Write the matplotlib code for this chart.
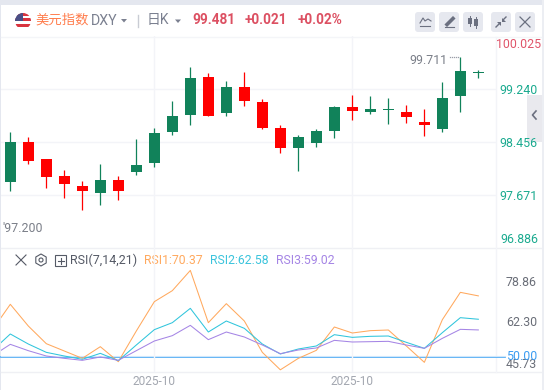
# plot.py - DXY daily candles with RSI pane

import matplotlib
matplotlib.use('Agg')
import numpy as np
import matplotlib.pyplot as plt
from matplotlib.patches import Circle, FancyBboxPatch, Polygon, Rectangle, RegularPolygon

plt.rcParams['font.family'] = ['Roboto', 'Noto Sans CJK SC', 'DejaVu Sans']

# candles
highs = [98.603, 98.529, 98.203, 98.040, 97.877, 98.129, 97.952, 98.499, 98.662, 99.062, 99.566, 99.477, 99.358, 99.492,
         99.092, 98.707, 98.559, 98.648, 98.988, 99.151, 99.136, 99.107, 99.003, 98.944, 99.344, 99.711, 99.517]
opens = [97.863, 98.455, 98.203, 97.952, 97.803, 97.700, 97.892, 98.011, 98.144, 98.603, 98.855, 99.418, 98.885, 99.270,
         99.047, 98.662, 98.366, 98.440, 98.618, 98.973, 98.899, 98.929, 98.899, 98.751, 98.648, 99.136, 99.477]
closes = [98.455, 98.174, 97.937, 97.833, 97.729, 97.892, 97.729, 98.114, 98.588, 98.840, 99.403, 98.840, 99.270, 99.062,
          98.662, 98.366, 98.529, 98.618, 98.973, 98.914, 98.944, 98.944, 98.825, 98.707, 99.107, 99.507, 99.496]
lows = [97.729, 98.129, 97.774, 97.626, 97.448, 97.522, 97.596, 97.966, 98.085, 98.559, 98.707, 98.840, 98.840, 98.988,
        98.648, 98.292, 98.026, 98.381, 98.514, 98.781, 98.870, 98.722, 98.736, 98.544, 98.603, 98.899, 99.403]

# rsi, the first point sits just left of the visible pane
rsi_x = list(range(-1, 27))
rsi1 = [59.00, 67.56, 60.33, 54.44, 52.00, 49.55, 53.44, 48.44, 58.67, 68.44, 72.11, 78.86, 61.44, 67.78,
        62.00, 51.55, 45.73, 49.55, 52.22, 60.00, 58.00, 58.78, 59.00, 53.67, 48.22, 62.44, 71.55, 70.37]
rsi2 = [52.11, 57.67, 54.33, 51.55, 50.33, 49.22, 51.22, 48.78, 54.00, 59.11, 61.44, 66.22, 58.33, 62.00,
        59.55, 54.33, 51.00, 52.67, 53.67, 57.44, 56.55, 56.89, 57.00, 54.89, 52.89, 58.11, 63.11, 62.58]
rsi3 = [50.33, 54.22, 52.11, 50.33, 49.55, 48.89, 50.00, 48.89, 52.11, 55.33, 57.11, 60.55, 55.78, 58.33,
        56.67, 54.00, 51.11, 52.33, 53.00, 55.55, 55.00, 55.11, 55.22, 54.00, 52.89, 56.22, 59.22, 59.02]

price_ticks = [99.240, 98.456, 97.671]
price_labels = ['100.025', '99.240', '98.456', '97.671', '96.886']
rsi_labels = ['78.86', '62.30', '45.73']
date_ticks = [8, 19]
date_labels = ['2025-10', '2025-10']

GREEN = '#11825a'
RED = '#ff0000'
GRID = '#f3f4f8'
W, H = 544, 390

fig = plt.figure(figsize=(W / 100, H / 100), dpi=100, facecolor='white')


def pane(x0, y0, x1, y1):
    """Axes placed by pixel box, y counted from the top."""
    ax = fig.add_axes([x0 / W, 1 - y1 / H, (x1 - x0) / W, (y1 - y0) / H])
    ax.set_facecolor('none')
    ax.axis('off')
    return ax


# pixel overlay for the chrome around the chart
ui = pane(0, 0, W, H)
ui.set_xlim(0, W)
ui.set_ylim(H, 0)
ui.add_patch(Rectangle((0, 0), W, 4.5, color='#e4e7ef', lw=0))
ui.add_patch(Rectangle((0, 0), 1.2, H, color='#e4e7ef', lw=0))
ui.add_patch(Rectangle((541.5, 0), 3, H, color='#eceef3', lw=0))
ui.plot([1, 541], [36.5, 36.5], color='#f4f5f8', lw=1)
ui.plot([1, 541], [248, 248], color='#eff0f4', lw=1)
ui.plot([1, 541], [372, 372], color='#eff0f4', lw=1)
ui.plot([496, 496], [37, 372], color='#f3f4f8', lw=1)
ui.add_patch(Rectangle((527, 95), 15, 47, color='#e9e9ee', lw=0))
ui.plot([536, 532.5, 536], [111, 115, 119], color='#6c7080', lw=1.2)

# flag
flag = Circle((23, 21), 8, transform=ui.transData)
for i in range(6):
    s = Rectangle((15, 13 + i * 2.7), 16, 2.7, color='#d8343f' if i % 2 == 0 else 'white', lw=0, zorder=3)
    ui.add_patch(s)
    s.set_clip_path(flag)
canton = Rectangle((15, 13), 8, 8, color='#4a4f86', lw=0, zorder=4)
ui.add_patch(canton)
canton.set_clip_path(flag)


def txt(x, y, s, color, size=8.9, ha='left', **kw):
    ui.text(x, y, s, color=color, fontsize=size, ha=ha, va='center', **kw)


txt(35, 20, '美元指数', '#ff7d4d', size=9.6)
txt(91, 21, 'DXY', '#7b8090', size=10.2)
ui.add_patch(Polygon([[121, 19], [127, 19], [124, 22.5]], color='#7b8090', lw=0))
ui.plot([137.5, 137.5], [15, 27], color='#c9ccd4', lw=1)
txt(147, 20, '日K', '#7b8090', size=10)
ui.add_patch(Polygon([[175, 19.5], [181, 19.5], [178, 23]], color='#7b8090', lw=0))
txt(192, 20.5, '99.481', '#dc5062', size=9.8, fontweight='bold')
txt(245, 20.5, '+0.021', '#dc5062', size=9.8, fontweight='bold')
txt(298, 20.5, '+0.02%', '#dc5062', size=9.8, fontweight='bold')

# toolbar buttons
for bx in [415, 439, 463, 491, 515]:
    ui.add_patch(FancyBboxPatch((bx + 2, 14), 16, 16, boxstyle='round,pad=2,rounding_size=3', color='#e6e8ef', lw=0))
ICON = '#6b7080'
ui.plot([420, 423, 425, 428, 431], [23, 18, 21, 19, 21], color=ICON, lw=0.8)
ui.plot([420, 430], [26, 26], color=ICON, lw=0.8)
ui.plot([447, 453], [24.5, 18.5], color=ICON, lw=2.6)
ui.plot([445, 454], [26.5, 26.5], color=ICON, lw=0.8)
for cx, top, bot in [(470, 18, 24), (476, 19, 26)]:
    ui.plot([cx, cx], [top - 2, bot + 2], color=ICON, lw=0.7)
    ui.add_patch(Rectangle((cx - 2, top), 4, bot - top, color=ICON, lw=0))
ui.plot([496, 499], [27, 24], color=ICON, lw=1)
ui.plot([503, 506], [20, 17], color=ICON, lw=1)
ui.add_patch(Polygon([[497, 22], [501, 22], [501, 26]], color=ICON, lw=0))
ui.add_patch(Polygon([[502, 22], [502, 18], [506, 22]], color=ICON, lw=0))
ui.plot([520, 530], [17, 27], color=ICON, lw=0.9)
ui.plot([520, 530], [27, 17], color=ICON, lw=0.9)

# price pane
ax = pane(1, 36, 496, 248)
ax.set_xlim(-0.517, 26.98)
ax.set_ylim(96.886, 100.025)
for p in price_ticks:
    ax.axhline(p, color=GRID, lw=1, zorder=0)
for d in date_ticks:
    ax.axvline(d, color=GRID, lw=1, zorder=0)
x = np.arange(len(opens))
colors = [GREEN if c >= o else RED for o, c in zip(opens, closes)]
ax.vlines(x, lows, highs, colors=colors, lw=0.9, zorder=2)
ax.bar(x, np.abs(np.array(closes) - np.array(opens)), bottom=np.minimum(opens, closes), width=0.61,
       color=colors, lw=0, zorder=3)

# rsi pane
rx = pane(1, 248, 496, 372)
rx.set_xlim(-0.517, 26.98)
rx.set_ylim(45.0, 86.33)
for d in date_ticks:
    rx.axvline(d, color=GRID, lw=1, zorder=0)
rx.plot(rsi_x, rsi1, color='#ffa95e', lw=0.75, zorder=3)
rx.plot(rsi_x, rsi2, color='#30c5dc', lw=0.75, zorder=3)
rx.plot(rsi_x, rsi3, color='#a585e5', lw=0.75, zorder=3)
ui.plot([1, 505], [357, 357], color='#55aef5', lw=1.3, zorder=5)
ui.plot([1, 505], [355.8, 355.8], color='#cfe7fb', lw=0.8, zorder=5)

# axis labels
for s, y, c in zip(price_labels, [44.5, 90, 143.5, 196.5, 239.5], ['#e0556a'] + ['#1aaa8f'] * 4):
    txt(541 if s == '100.025' else 538, y, s, c, ha='right', zorder=6)
for s, y in zip(rsi_labels, [283, 322, 364]):
    txt(537, y, s, '#6a6e78', ha='right', zorder=6)
txt(537, 357, '50.00', '#3c9df2', ha='right', zorder=7)
for d, s in zip(date_ticks, date_labels):
    rx.annotate(s, (d, 0), xycoords=('data', 'axes fraction'), xytext=(0, -6.5), textcoords='offset points',
                ha='center', va='center', color='#a3a7b0', fontsize=8.6, annotation_clip=False)
txt(409, 60, '99.711', '#7a7e88', size=8.9)
ui.plot([450, 452, 454, 456, 458], [57, 57, 57, 57, 57], ls='none', marker='s', ms=0.9, color='#9a9ea8', mew=0)
txt(2, 229, "'97.200", '#7a7e88', size=8.9)

# rsi legend row
ui.plot([16, 26], [255, 265], color='#555a66', lw=0.8)
ui.plot([16, 26], [265, 255], color='#555a66', lw=0.8)
ui.add_patch(RegularPolygon((41, 260), 6, radius=6, fill=False, ec='#555a66', lw=0.8))
ui.add_patch(Circle((41, 260), 2, fill=False, ec='#555a66', lw=0.8))
ui.add_patch(Rectangle((55, 255), 11, 11, fill=False, ec='#555a66', lw=0.8))
ui.plot([57.5, 63.5], [260.5, 260.5], color='#555a66', lw=0.8)
ui.plot([60.5, 60.5], [257.5, 263.5], color='#555a66', lw=0.8)
txt(70, 260.5, 'RSI(7,14,21)', '#555a66', size=9)
txt(144, 260.5, 'RSI1:70.37', '#ffa95e', size=8.8)
txt(210, 260.5, 'RSI2:62.58', '#3bc4dc', size=8.8)
txt(276, 260.5, 'RSI3:59.02', '#a585e5', size=8.8)

fig.savefig('out.png', dpi=100)
